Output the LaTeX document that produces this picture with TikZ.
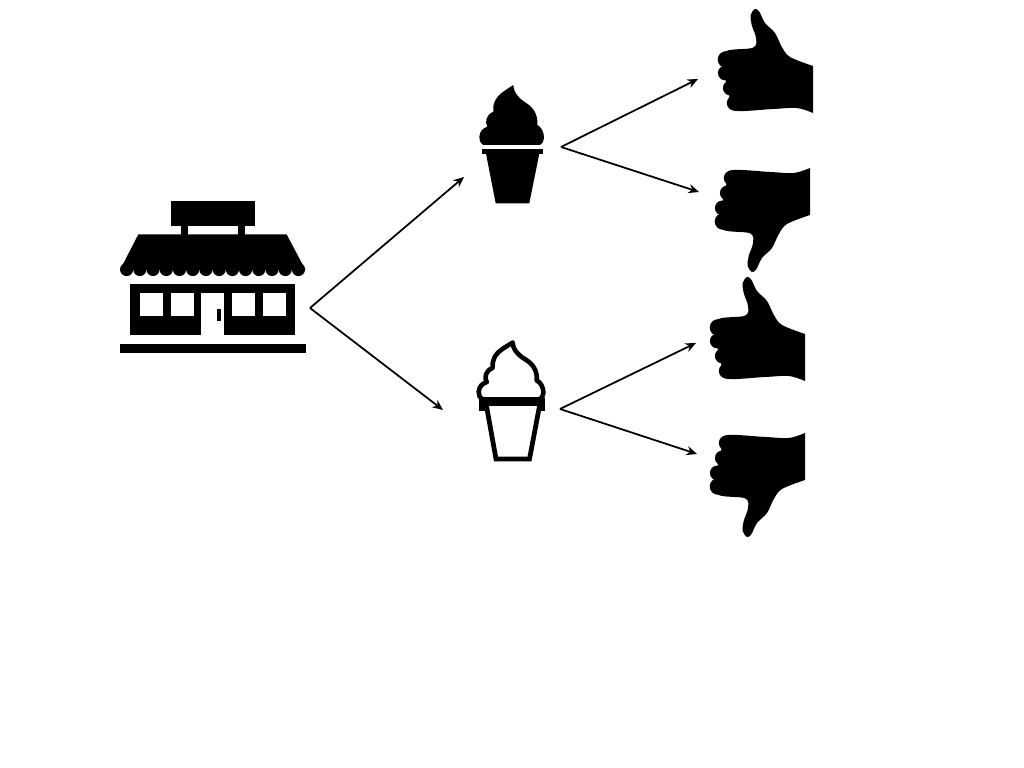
\documentclass[tikz,border=0pt]{standalone}
\usepackage{tikz}
\usetikzlibrary{arrows.meta}

\newcommand{\scooppath}{(0,0) .. controls (0,5) and (3,12) .. (13.3,18.3)
    .. controls (20,22.5) and (25,30) .. (24,40)
    .. controls (28,42) and (30.7,47) .. (30.7,53)
    .. controls (30.7,56) and (29,59) .. (26.7,60) -- (-30,60)
    .. controls (-33,58) and (-34.5,55) .. (-34,51.7)
    .. controls (-33.5,46) and (-30,43) .. (-26,41.7)
    .. controls (-28.5,37) and (-27.5,30) .. (-20,26.7)
    .. controls (-21,20) and (-18,12) .. (-10,6.7)
    .. controls (-7,4.5) and (-3,2) .. (0,0) -- cycle}

\tikzset{
    link/.style={draw=black, line width=0.5pt, -{Stealth[length=3pt, width=2.6pt]}},
    solidblack/.style={fill=black, draw=none},
    hole/.style={fill=white, draw=none},
    thumb/.pic={
        \fill[solidblack] plot[smooth, tension=0.55] coordinates {
            (50,5) (27,-4) (18.7,-14.3) (12,-28) (2,-38) (-3.7,-49.3) (-8,-52)
            (-12.3,-46) (-11.3,-36) (-7,-23) (-10,-13.3) (-37,-9.7) (-40,5.7)
            (-37,20.7) (-33.7,35.7) (-29.7,49.5) (10,48) (33.7,47) (50,52)
        } -- cycle;
        % fingers
        \foreach \x/\y/\r in {-37/-1.5/8.3, -37.7/12/7.4, -32.7/27/7.4, -28.7/42/7.5} {
            \fill[solidblack] (\x,\y) circle (\r);
        }
    }
}

\begin{document}
\begin{tikzpicture}[x=0.01cm, y=-0.01cm]
    \useasboundingbox (0,0) rectangle (1024,768);

    % shop
    \fill[solidblack] (170.7,201) rectangle (255,226);
    \fill[solidblack] (180.7,226) rectangle (187.7,236);
    \fill[solidblack] (238,226) rectangle (245,236);
    \fill[solidblack] (138.3,234.5) -- (286.7,234.5) -- (305.5,270) -- (120,270) -- cycle;
    \foreach \i in {0,...,13} {
        \fill[solidblack] (126.6 + 13.22*\i, 269.5) circle (6.6);
    }
    \fill[solidblack] (130,283.7) rectangle (295.3,335.3);
    \foreach \x in {140,170.7,232,262.7} {
        \fill[hole] (\x,293) rectangle (\x+23,315.7);
    }
    \fill[hole] (201.3,293) rectangle (224,335.5);
    \fill[solidblack] (216.7,309.3) rectangle (220.7,321.3);
    \fill[solidblack] (120,343.7) rectangle (305.7,353);

    % filled cone
    \begin{scope}[shift={(513.3,85)}]
        \fill[solidblack] \scooppath;
    \end{scope}
    \fill[solidblack] (481.7,149) rectangle (542.7,153.7);
    \fill[solidblack] (486,153.7) -- (539.3,153.7) -- (529.3,203.3) -- (495.7,203.3) -- cycle;

    % outlined cone
    \begin{scope}[shift={(512.7,342.5)}, yscale=0.95]
        \draw[line width=1.3pt, line join=round] \scooppath;
    \end{scope}
    \fill[solidblack] (479,398) rectangle (545,406);
    \fill[solidblack] (479,406) rectangle (484.5,411.5);
    \fill[solidblack] (539.5,406) rectangle (545,411.5);
    \draw[line width=1.35pt, line join=miter] (486.5,406) -- (496,459) -- (529.5,459) -- (539.5,406);

    % thumbs
    \pic (thumbupa) at (763,61) {thumb};
    \pic[yscale=-1] (thumbdowna) at (760,220) {thumb};
    \pic (thumbupb) at (755,329) {thumb};
    \pic[yscale=-1] (thumbdownb) at (755,485) {thumb};

    % arrows
    \coordinate (shopout) at (310,308);
    \coordinate (filledin) at (464,177);
    \coordinate (outlinedin) at (443,410);
    \coordinate (filledout) at (561,147);
    \coordinate (outlinedout) at (560,409);
    \coordinate (upain) at (698,79);
    \coordinate (downain) at (699,192);
    \coordinate (upbin) at (696,343);
    \coordinate (downbin) at (697,454);

    \foreach \from/\to in {shopout/filledin, shopout/outlinedin, filledout/upain, filledout/downain, outlinedout/upbin, outlinedout/downbin} {
        \draw[link] (\from) -- (\to);
    }
\end{tikzpicture}
\end{document}
